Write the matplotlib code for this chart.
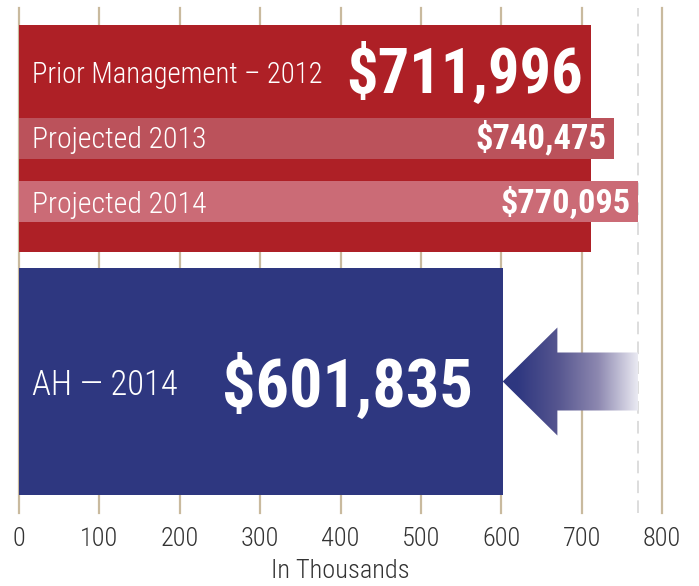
import numpy as np
import matplotlib.pyplot as plt
from matplotlib import font_manager
from matplotlib.patches import Polygon
from matplotlib.colors import LinearSegmentedColormap

# pick a narrow font if one is installed
fonts = font_manager.fontManager.ttflist
names = {f.name for f in fonts}
stretch = "normal"
narrow = "Roboto"
for cand in ["Liberation Sans Narrow", "Roboto Condensed", "Open Sans Condensed"]:
    if cand in names:
        narrow = cand
        break
else:
    if any(f.name == "DejaVu Sans" and f.stretch in ("condensed", "semi-condensed") for f in fonts):
        narrow, stretch = "DejaVu Sans", "condensed"
light = "light" if any(f.name == narrow and f.weight == 300 for f in fonts) else "normal"

# data (in thousands)
labels = ["Prior Management – 2012", "Projected 2013", "Projected 2014", "AH — 2014"]
values = [711.996, 740.475, 770.095, 601.835]
ticks = [0, 100, 200, 300, 400, 500, 600, 700, 800]

# layout (y runs downward, in pixels from top)
centers = [138.5, 138.5, 201.5, 381.5]
heights = [227, 41, 41, 227]
colors = ["#AE2026", "#BB525B", "#CB6B76", "#2E3780"]
baselines = [83, 148, 213, 395]
val_baselines = [92, 148, 213, 407]
val_pad = [10, 9, 9, 37]
label_w = [290, 174, 174, 146]      # widths in the reference, px
value_w = [237, 131, 130, 251]

fig = plt.figure(figsize=(6.99, 5.86), dpi=100)
ax = fig.add_axes([19 / 699, 1 - 513 / 586, 643 / 699, 505 / 586])

for t in ticks:
    ax.axvline(t, color="#C9BA9E", lw=1.6, zorder=0, clip_on=False)
ax.axvline(values[2], color="#DADADA", lw=1.3, ls=(0, (7, 4)), zorder=0)

ax.barh(centers, values, height=heights, color=colors, zorder=2)

texts = []
for i in range(4):
    t1 = ax.text(16, baselines[i], labels[i], color="white", fontsize=20,
                 family=narrow, fontstretch=stretch, fontweight=light,
                 va="baseline", ha="left", zorder=3)
    txt = "\\$" + f"{values[i] * 1000:,.0f}"
    t2 = ax.text(values[i] - val_pad[i], val_baselines[i], txt, color="white",
                 fontsize=20, family=narrow, fontstretch=stretch, fontweight="bold",
                 va="baseline", ha="right", zorder=3)
    texts += [(t1, label_w[i]), (t2, value_w[i])]

# gradient arrow from projected 2014 back to AH
tip = values[3]
tail = values[2]
yc = centers[3]
head = tip + 68
pts = [(tip, yc), (head, yc - 54), (head, yc - 29), (tail, yc - 29),
       (tail, yc + 29), (head, yc + 29), (head, yc + 54)]
arrow = Polygon(pts, closed=True, facecolor="none", edgecolor="none", zorder=4)
ax.add_patch(arrow)
cmap = LinearSegmentedColormap.from_list(
    "arr", [(0, "#2E3780"), (0.1, "#2E3780"), (0.4, "#55558F"),
            (0.7, "#8D88B0"), (1, "#ECECF4")])
grad = np.linspace(0, 1, 256).reshape(1, -1)
im = ax.imshow(grad, cmap=cmap, extent=(tip, tail, yc + 55, yc - 55),
               aspect="auto", zorder=4, interpolation="bilinear")
im.set_clip_path(arrow)

ax.set_xlim(0, 800)
ax.set_ylim(513, 8)
ax.set_yticks([])
ax.set_xticks(ticks)
ax.set_xticklabels([str(t) for t in ticks], family=narrow, fontstretch=stretch,
                   fontweight=light, fontsize=19, color="#333333")
ax.tick_params(axis="x", length=0, pad=10)
ax.set_xlabel("In Thousands", family=narrow, fontstretch=stretch, fontweight=light,
              fontsize=19, color="#333333", labelpad=6)
for s in ax.spines.values():
    s.set_visible(False)

# size texts to the widths seen in the reference
fig.canvas.draw()
r = fig.canvas.get_renderer()
for t, w in texts:
    bw = t.get_window_extent(r).width
    t.set_fontsize(t.get_fontsize() * w / bw)

fig.savefig("out.png", dpi=100)
